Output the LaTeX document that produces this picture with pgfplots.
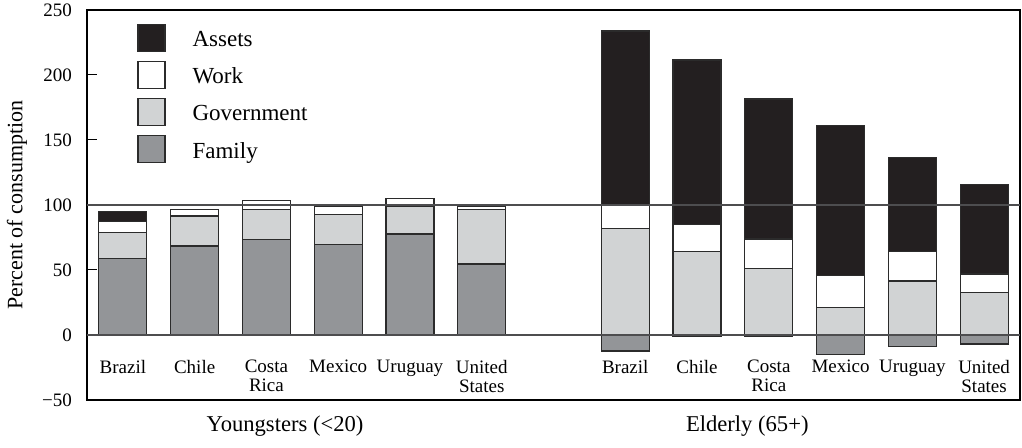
\documentclass[border=0pt]{standalone}
\usepackage{fontspec}
\setmainfont{Liberation Serif}
\usepackage{pgfplots}
\usepackage{pgfplotstable}
\pgfplotsset{compat=1.18}

\definecolor{assetc}{HTML}{231F20}
\definecolor{govc}{HTML}{D1D3D4}
\definecolor{famc}{HTML}{939598}
\definecolor{edgec}{HTML}{2B2B2B}
\definecolor{linec}{HTML}{4D4D4F}

% cumulative tops of each layer; youngsters at 0..5, elderly at 7..12
\pgfplotstableread{
x  assets work  gov   family
0  94.8   87.0  78.7  59.0
1  96.7   96.7  91.5  68.5
2  103.3  103.3 96.4  73.3
3  99.2   98.8  92.5  69.5
4  105.0  105.0 99.2  77.7
5  99.2   99.2  96.7  54.6
7  233.8  99.5  81.8  -12.3
8  211.5  84.9  64.1  -1.3
9  181.5  73.8  51.0  -1.3
10 161.3  45.9  21.0  -14.9
11 136.7  64.1  41.5  -9.0
12 115.9  46.9  32.8  -6.9
}\shares

\begin{document}
\begin{tikzpicture}
\path[use as bounding box] (-43.5pt,-24pt) rectangle (467.5pt,200pt);
\begin{axis}[
  at={(0,0)}, anchor=south west,
  width=466.5pt, height=195pt, scale only axis,
  xmin=-0.5, xmax=12.5, ymin=-50, ymax=250,
  enlargelimits=false, clip=false,
  xtick=\empty,
  ytick={-50,0,50,100,150,200,250},
  yticklabels={−50,0,50,100,150,200,250},
  ytick pos=left, tick align=inside, major tick length=5pt,
  tick style={draw=black, line width=0.5pt},
  axis line style={line width=0.6pt},
  yticklabel style={font=\fontsize{9.5}{10}\selectfont, xshift=-4pt},
  ylabel={Percent of consumption},
  ylabel style={at={(axis description cs:-0.075,0.5)}, anchor=center, font=\fontsize{11}{12}\selectfont},
  legend cell align=left,
  legend style={at={(axis description cs:0,1)}, anchor=north west, xshift=25pt, yshift=-6.65pt,
    draw=none, fill=none, inner sep=0pt, row sep=4.5pt, column sep=13.5pt,
    nodes={inner sep=0pt, font=\fontsize{11.5}{12}\selectfont}},
  sq/.style={ybar, bar width=24pt, bar shift=0pt, draw=edgec, line width=0.6pt,
    legend image code/.code={\draw[##1] (0pt,-5.65pt) rectangle (13.5pt,7.85pt);}},
]
\addplot[sq, fill=assetc] table[x=x, y=assets] {\shares};
\addlegendentry{Assets}
\addplot[sq, fill=white] table[x=x, y=work] {\shares};
\addlegendentry{Work}
\addplot[sq, fill=govc] table[x=x, y=gov] {\shares};
\addlegendentry{Government}
\addplot[sq, fill=famc] table[x=x, y=family] {\shares};
\addlegendentry{Family}

\draw[linec, line width=0.6pt] (axis cs:-0.5,100) -- (axis cs:12.5,100);
\draw[linec, line width=0.8pt] (axis cs:-0.5,0) -- (axis cs:12.5,0);

\tikzset{cat/.style={anchor=north, align=center, inner sep=0pt, font=\fontsize{9.5}{9.5}\selectfont}}
\node[cat] at (axis cs:0,-19) {Brazil};
\node[cat] at (axis cs:1,-19) {Chile};
\node[cat] at (axis cs:2,-19) {Costa\\Rica};
\node[cat] at (axis cs:3,-19) {Mexico};
\node[cat] at (axis cs:4,-19) {Uruguay};
\node[cat] at (axis cs:5,-19) {United\\States};
\node[cat] at (axis cs:7,-19) {Brazil};
\node[cat] at (axis cs:8,-19) {Chile};
\node[cat] at (axis cs:9,-19) {Costa\\Rica};
\node[cat] at (axis cs:10,-19) {Mexico};
\node[cat] at (axis cs:11,-19) {Uruguay};
\node[cat] at (axis cs:12,-19) {United\\States};

\node[anchor=base, yshift=-15.8pt, font=\fontsize{11.3}{12}\selectfont] at (axis cs:2.26,-50) {Youngsters (<20)};
\node[anchor=base, yshift=-15.8pt, font=\fontsize{11.3}{12}\selectfont] at (axis cs:8.70,-50) {Elderly (65+)};
\end{axis}
\end{tikzpicture}
\end{document}
